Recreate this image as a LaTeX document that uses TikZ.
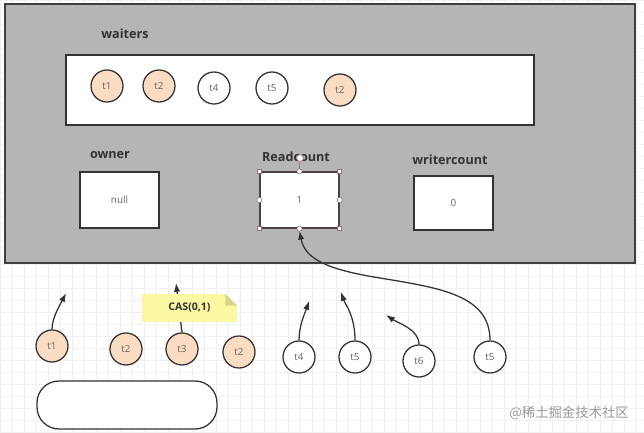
\documentclass[tikz,border=0pt]{standalone}
\usepackage{fontspec}
\setmainfont{Open Sans}
\newfontfamily\cjk{Noto Sans CJK SC}
\usetikzlibrary{arrows.meta,positioning}
\definecolor{panel}{HTML}{B5B5B5}
\definecolor{peach}{HTML}{F9DCC2}
\definecolor{memoyellow}{HTML}{FAF8A2}
\definecolor{memofold}{HTML}{D8D68C}
\definecolor{ink}{HTML}{333333}
\definecolor{handle}{HTML}{9A6A78}

\begin{document}
\begin{tikzpicture}[x=0.25mm,y=-0.25mm,>={Latex[length=2.2mm,width=1.6mm]},
    thread/.style={draw=ink,circle,line width=0.9pt,fill=white,minimum size=8mm,
                   inner sep=0pt,font=\fontsize{7}{8}\selectfont,text=black!60},
    held/.style={thread,fill=peach},
    field/.style={draw=ink,line width=1pt,fill=white,minimum width=19.75mm,
                  minimum height=14mm,font=\fontsize{7}{8}\selectfont,text=black!60},
    title/.style={font=\fontsize{9}{11}\selectfont\bfseries,text=ink},
    flow/.style={draw=ink,line width=0.9pt,->},
    corner/.style={draw=handle,fill=white,minimum size=1mm,inner sep=0pt},
    mid/.style={draw=handle,fill=white,circle,minimum size=1.3mm,inner sep=0pt},
    memo/.style={fill=memoyellow,minimum width=23.75mm,minimum height=7mm,
                 font=\fontsize{7.5}{9}\selectfont\bfseries,text=ink}]
    \useasboundingbox (0,0) rectangle (644,433);
    \draw[black!6,step=3mm] (0,0) grid (644,433);
    \draw[fill=panel,draw=black!75,line width=1.2pt] (5,4) rectangle (635,263);

    % waiters
    \node[title] (waitlabel) at (125,34) {waiters};
    \node[draw=ink,line width=1pt,fill=white,minimum width=117mm,
          minimum height=17.5mm] (queue) at (300,90) {};
    \node[held] (wt1) at (107,86) {t1};
    \node[held] (wt2) at (159,86) {t2};
    \node[thread] (wt4) at (214,88) {t4};
    \node[thread] (wt5) at (272,88) {t5};
    \node[held] (wt2b) at (340,90) {t2};

    % fields
    \node[title] (ownerlabel) at (110,155) {owner};
    \node[field] (owner) at (119.5,200) {null};
    \node[title] (rclabel) at (296,157) {Readcount};
    \node[field,draw=ink!75!handle] (rc) at (299.5,200) {1};
    \node[title] (wclabel) at (450,160) {writercount};
    \node[field,minimum height=13.5mm] (wc) at (453.5,203) {0};

    % threads outside
    \node[held] (ct1) at (52,346) {t1};
    \node[held] (ct2) at (126,349) {t2};
    \node[held] (ct3) at (182,349) {t3};
    \node[held] (ct2b) at (239,352) {t2};
    \node[thread] (ct4) at (299,357) {t4};
    \node[thread] (ct5) at (355,357) {t5};
    \node[thread] (ct6) at (419,361) {t6};
    \node[thread] (ct5b) at (490,357) {t5};
    \node[draw=ink,line width=0.9pt,fill=white,rounded corners=5.5mm,
          minimum width=45mm,minimum height=12mm] (pool) at (127,405) {};

    % arrows
    \coordinate (up1) at (66,293);
    \coordinate (up3) at (176,283);
    \coordinate (up4) at (309,301);
    \coordinate (up5) at (341,292);
    \coordinate (up6) at (386,315);
    \draw[flow] (ct1.north) .. controls +(0,-12) and +(-5,10) .. (up1);
    \draw[flow] (ct3.north) -- (up3);
    \draw[flow] (ct4.north) .. controls +(0,-15) and +(-4,12) .. (up4);
    \draw[flow] (ct5.north) .. controls +(0,-25) and +(4,12) .. (up5);
    \draw[flow] (ct6.north) .. controls +(0,-15) and +(12,8) .. (up6);
    \draw[flow] (ct5b.north) .. controls (490,295) and (440,288) .. (380,278)
        .. controls (330,270) and (305,260) .. ([yshift=-1.5pt]rc.south);

    % selection handles
    \node[corner] (h1) at (rc.north west) {};
    \node[corner] (h2) at (rc.north east) {};
    \node[corner] (h3) at (rc.south west) {};
    \node[corner] (h4) at (rc.south east) {};
    \node[mid] (h5) at (rc.north) {};
    \node[mid] (h6) at (rc.south) {};
    \node[mid] (h7) at (rc.west) {};
    \node[mid] (h8) at (rc.east) {};
    \node[mid,minimum size=1.7mm] (spin) at (300,158) {};
    \draw[handle,line width=0.6pt] (h5) -- (spin);

    % note
    \node[memo] (cas) at (189.5,308) {CAS(0,1)};
    \fill[white] ([xshift=-3mm]cas.north east) -- (cas.north east)
        -- ([yshift=-3mm]cas.north east) -- cycle;
    \fill[memofold] ([xshift=-3mm]cas.north east) -- ([yshift=-3mm]cas.north east)
        -- ([xshift=-3mm,yshift=-3mm]cas.north east) -- cycle;

    \node[text=black!40,font=\cjk\fontsize{9.5}{11}\selectfont] (mark) at (569,413)
        {@稀土掘金技术社区};
\end{tikzpicture}
\end{document}
